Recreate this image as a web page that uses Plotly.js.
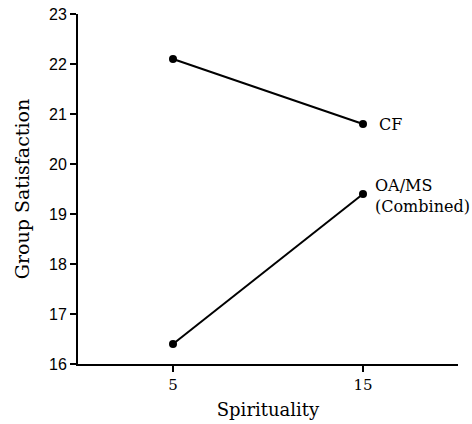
<!DOCTYPE html>
<html>
<head>
<meta charset="utf-8">
<script src="https://cdn.plot.ly/plotly-3.0.1.min.js"></script>
<style>html,body{margin:0;padding:0;background:#fff;}#chart{width:472px;height:424px;}</style>
</head>
<body>
<div id="chart"></div>
<script>
const spirituality = [5, 15];
const cfValues = [22.1, 20.8];
const oamsValues = [16.4, 19.4];
const seriesLabels = ["CF", "OA/MS<br>(Combined)"];
const yTicks = [16, 17, 18, 19, 20, 21, 22, 23];
const xTicks = [5, 15];

const serif = "DejaVu Serif, serif";
const sans = "Liberation Sans, Arial, sans-serif";

const lineStyle = {color: "#000", width: 2};
const markerStyle = {color: "#000", size: 8};

const traces = [
  {x: spirituality, y: cfValues, mode: "lines+markers", line: lineStyle, marker: markerStyle, name: "CF", hoverinfo: "skip"},
  {x: spirituality, y: oamsValues, mode: "lines+markers", line: lineStyle, marker: markerStyle, name: "OA/MS", hoverinfo: "skip"}
];

const layout = {
  width: 472, height: 424,
  margin: {l: 78, r: 14, t: 14, b: 60},
  showlegend: false,
  paper_bgcolor: "#fff", plot_bgcolor: "#fff",
  xaxis: {
    range: [0, 20], tickvals: xTicks, ticktext: xTicks.map(String),
    showgrid: false, zeroline: false, showline: true, linecolor: "#000", linewidth: 2,
    ticks: "outside", ticklen: 6, tickwidth: 1.5, tickcolor: "#000",
    tickfont: {family: serif, size: 15, color: "#000"},
    title: {text: "Spirituality", font: {family: serif, size: 18, color: "#000"}, standoff: 10}
  },
  yaxis: {
    range: [16, 23], tickvals: yTicks,
    showgrid: false, zeroline: false, showline: true, linecolor: "#000", linewidth: 2,
    ticks: "outside", ticklen: 6, tickwidth: 1.5, tickcolor: "#000",
    tickfont: {family: sans, size: 16, color: "#000"},
    title: {text: "Group Satisfaction", font: {family: serif, size: 19, color: "#000"}, standoff: 14}
  },
  annotations: [
    {x: spirituality[1], y: cfValues[1], text: seriesLabels[0], xref: "x", yref: "y", showarrow: false, xanchor: "left", yanchor: "middle", xshift: 14, font: {family: serif, size: 16, color: "#000"}},
    {x: spirituality[1], y: oamsValues[1], text: seriesLabels[1], xref: "x", yref: "y", showarrow: false, xanchor: "left", yanchor: "middle", align: "left", xshift: 10, yshift: -2, font: {family: serif, size: 16, color: "#000"}}
  ]
};

Plotly.newPlot("chart", traces, layout, {displayModeBar: false, staticPlot: true});
</script>
</body>
</html>
